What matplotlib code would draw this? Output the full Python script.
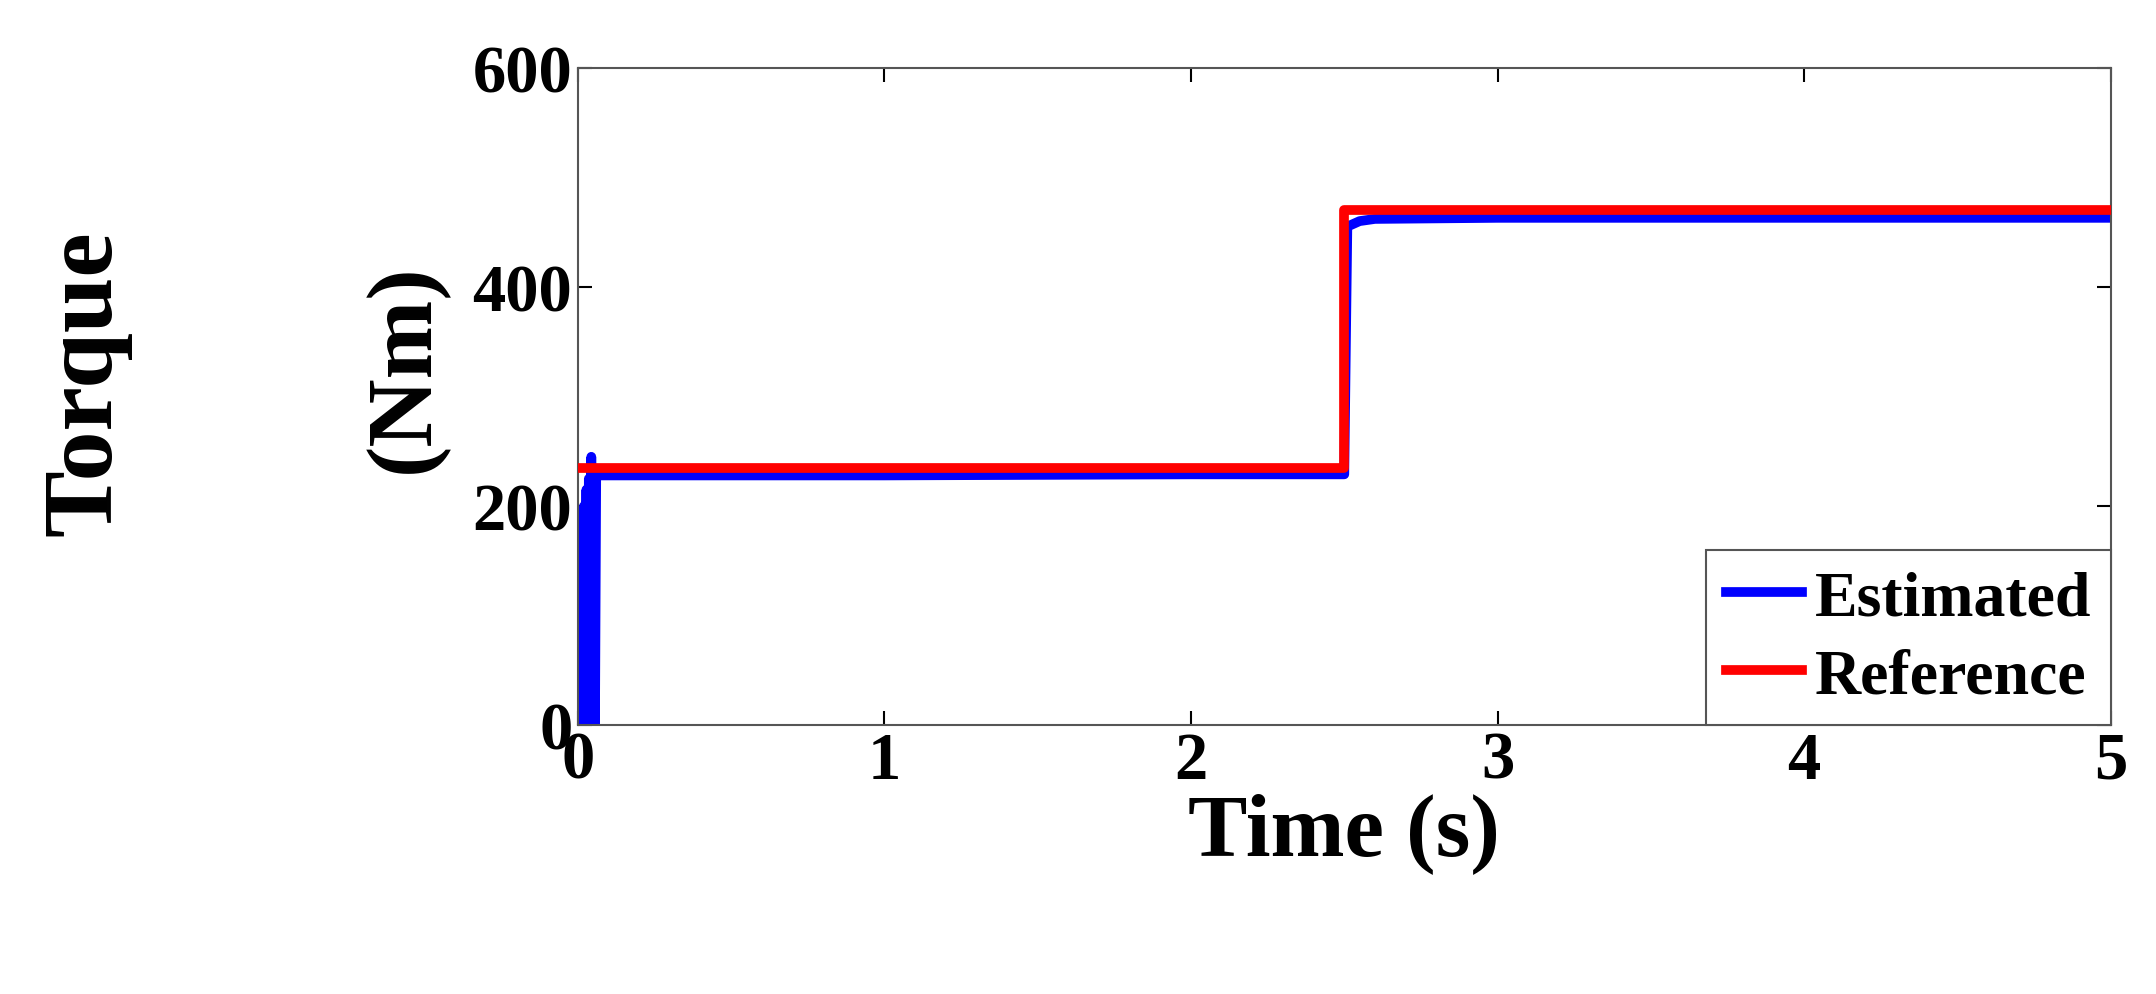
import numpy as np
import matplotlib.pyplot as plt

# reference torque steps
ref_t = [0.0, 2.5, 2.5, 5.0]
ref_v = [235, 235, 470, 470]

# estimated torque: start-up oscillation, then steady levels
est_t = [0.0, 0.004, 0.008, 0.012, 0.016, 0.02, 0.024, 0.028, 0.032, 0.036, 0.04,
         0.044, 0.048, 0.052, 0.056, 0.06, 0.06, 1.0, 2.0, 2.5, 2.51, 2.55, 2.6, 3.0, 5.0]
est_v = [0, 190, 0, 195, 0, 200, 0, 215, 0, 225, 0,
         245, 0, 230, 0, 228, 228, 228, 229, 229, 455, 460, 462, 463, 463]

plt.rcParams["font.family"] = ["Liberation Serif", "DejaVu Serif"]
plt.rcParams["font.weight"] = "bold"

fig = plt.figure(figsize=(21.56, 9.95), dpi=100)
ax = fig.add_axes([0.268, 0.27, 0.711, 0.661])
ax.plot(est_t, est_v, color="blue", lw=7, label="Estimated", zorder=2)
ax.plot(ref_t, ref_v, color="red", lw=7, label="Reference", zorder=3)

ax.set_xlim(0, 5)
ax.set_ylim(0, 600)
ax.set_xticks([0, 1, 2, 3, 4, 5])
ax.set_yticks([0, 200, 400, 600])
ax.tick_params(labelsize=48, length=10, width=1.5, direction="in", top=True, right=True, pad=4)
for lab in ax.get_xticklabels() + ax.get_yticklabels():
    lab.set_fontweight("bold")
for s in ax.spines.values():
    s.set_color("#555555")
    s.set_linewidth(1.5)

ax.set_xlabel("Time (s)", fontsize=64, fontweight="bold", labelpad=0)
fig.text(0.04, 0.615, "Torque", rotation=90, fontsize=72, fontweight="bold",
         ha="center", va="center")
fig.text(0.188, 0.63, "(Nm)", rotation=90, fontsize=68, fontweight="bold",
         ha="center", va="center")

leg = ax.legend(loc="lower right", fontsize=46, handlelength=1.2, handletextpad=0.2,
                borderpad=0.3, labelspacing=0.3, fancybox=False, framealpha=1,
                borderaxespad=0)
leg.get_frame().set_edgecolor("#555555")
leg.get_frame().set_linewidth(1.5)

fig.savefig("out.png", dpi=100)
